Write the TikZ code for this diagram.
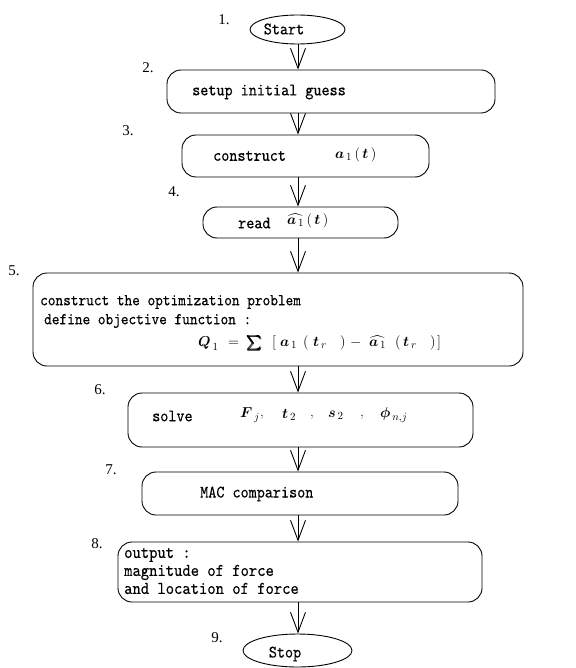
\documentclass[tikz,border=0pt]{standalone}
\usepackage{amsmath}
\usepackage{fontspec}
\newfontfamily\numfont{Liberation Serif}
\newfontfamily\boxfont{lmmono10-regular.otf}[FakeBold=0.3, FakeStretch=0.88]
\usetikzlibrary{arrows.meta,shapes.geometric}

% a piece of a formula, set flush left in a box of the given width
\newcommand{\putpiece}[2]{\makebox[#1pt][l]{#2}}

\tikzset{
  flowbox/.style={draw, line width=0.9pt, rounded corners=14pt, inner sep=0pt},
  terminal/.style={draw, ellipse, line width=0.9pt, inner sep=0pt},
  steplabel/.style={font=\numfont\fontsize{15}{15}\selectfont, inner sep=0pt},
  boxtext/.style={font=\boxfont\fontsize{17.5}{18}\selectfont, inner sep=0pt, anchor=west},
  smalltext/.style={font=\boxfont\fontsize{16.6}{18}\selectfont, inner sep=0pt, anchor=west},
  mathtext/.style={font=\fontsize{15}{18}\selectfont, inner sep=0pt, anchor=west},
  flow/.style={line width=0.9pt, -{Straight Barb[length=20pt,width=15pt]}},
}

\begin{document}
\begin{tikzpicture}[x=1pt,y=-1pt]
\useasboundingbox (0,0) rectangle (575,668);
\coordinate (spine) at (298,0);

% terminals and process boxes
\node[terminal, minimum width=95pt, minimum height=29pt] (start) at (297.5,29.5) {};
\node[flowbox, minimum width=328pt, minimum height=43pt] (b2) at (331,91.5) {};
\node[flowbox, minimum width=247pt, minimum height=42pt] (b3) at (305.5,156) {};
\node[flowbox, minimum width=195pt, minimum height=31pt] (b4) at (300.5,222.5) {};
\node[flowbox, minimum width=490pt, minimum height=93pt] (b5) at (278,319.5) {};
\node[flowbox, minimum width=345pt, minimum height=54pt] (b6) at (300.5,420) {};
\node[flowbox, minimum width=316pt, minimum height=43pt] (b7) at (300,493.5) {};
\node[flowbox, minimum width=364pt, minimum height=60pt] (b8) at (300,572) {};
\node[terminal, minimum width=109pt, minimum height=33pt] (stop) at (297.5,650.5) {};

% step numbers
\node[steplabel] (n1) at (224,20) {1.};
\node[steplabel] (n2) at (148,68) {2.};
\node[steplabel] (n3) at (128,131) {3.};
\node[steplabel] (n4) at (174,192) {4.};
\node[steplabel] (n5) at (14,271) {5.};
\node[steplabel] (n6) at (100,390) {6.};
\node[steplabel] (n7) at (111,470) {7.};
\node[steplabel] (n8) at (97,544) {8.};
\node[steplabel] (n9) at (217,638) {9.};

% texts
\node[boxtext, anchor=center] (starttxt) at (284,29) {Start};
\node[boxtext] (t2) at (192,92) {setup initial guess};
\node[boxtext] (t3) at (213,156) {construct};
\node[mathtext] (m3) at (335,155) {$\boldsymbol{a}_{\,1}\,(\,\boldsymbol{t}\,)$};
\node[boxtext] (t4) at (238,223) {read};
\node[mathtext] (m4) at (287,221) {$\widehat{\boldsymbol{a}_{\,1}}\,(\,\boldsymbol{t}\,)$};
\node[smalltext] (t5a) at (40,302) {construct the optimization problem};
\node[smalltext] (t5b) at (44,321) {define objective function :};
\node[mathtext] (m5) at (198,343) {%
  \putpiece{30}{$\boldsymbol{Q}_{\,1}$}%
  \putpiece{19}{$=$}%
  \putpiece{25}{$\pmb{\sum}$}%
  \putpiece{8}{$[$}%
  \putpiece{23}{$\boldsymbol{a}_{\,1}$}%
  \putpiece{10}{$($}%
  \putpiece{27}{$\boldsymbol{t}_{\,r}$}%
  \putpiece{10}{$)$}%
  \putpiece{19}{$-$}%
  \putpiece{26}{$\widehat{\boldsymbol{a}_{\,1}}$}%
  \putpiece{8}{$($}%
  \putpiece{27}{$\boldsymbol{t}_{\,r}$}%
  \putpiece{7}{$)$}%
  $]$};
\node[boxtext] (t6) at (152,416) {solve};
\node[mathtext] (m6a) at (240,415) {$\boldsymbol{F}_{\,j}$};
\node[mathtext] (m6b) at (260,417) {,};
\node[mathtext] (m6c) at (282,415) {$\boldsymbol{t}_{\,2}$};
\node[mathtext] (m6d) at (310,417) {,};
\node[mathtext] (m6e) at (328,415) {$\boldsymbol{s}_{\,2}$};
\node[mathtext] (m6f) at (360,417) {,};
\node[mathtext] (m6g) at (380,415) {$\boldsymbol{\phi}_{\,n,j}$};
\node[boxtext] (t7) at (200,494) {MAC comparison};
\node[boxtext, align=left, font=\boxfont\fontsize{18}{18}\selectfont] (t8) at (124,571) {output :\\magnitude of force\\and location of force};
\node[boxtext, anchor=center] (stoptxt) at (285,654) {Stop};

% connectors
\draw[flow] (start.south -| spine) -- (b2.north -| spine);
\draw[flow] (b2.south -| spine) -- (b3.north -| spine);
\draw[flow] (b3.south -| spine) -- (b4.north -| spine);
\draw[flow] (b4.south -| spine) -- (b5.north -| spine);
\draw[flow] (b5.south -| spine) -- (b6.north -| spine);
\draw[flow] (b6.south -| spine) -- (b7.north -| spine);
\draw[flow] (b7.south -| spine) -- (b8.north -| spine);
\draw[flow] (b8.south -| spine) -- (stop.north -| spine);
\end{tikzpicture}
\end{document}
